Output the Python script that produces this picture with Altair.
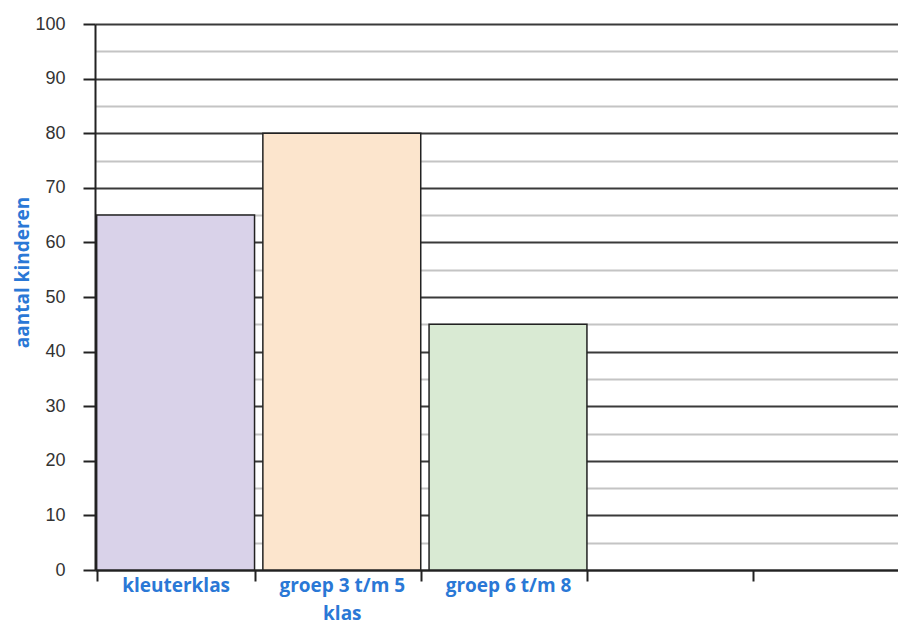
import altair as alt
import pandas as pd

# Data
categories = ["kleuterklas", "groep 3 t/m 5 klas", "groep 6 t/m 8"]
values = [65, 80, 45]
colors = ["#d9d2e9", "#fce5cd", "#d9ead3"]
# the axis shows two further (empty) category slots
x_domain = categories + [" ", "  "]
y_ticks = list(range(0, 101, 5))

df = pd.DataFrame({"klas": categories, "aantal": values, "kleur": colors})

label_blue = "#2a78d6"

x_axis = alt.Axis(
    title=None,
    tickBand="extent",
    labelAngle=0,
    labelFont="Open Sans",
    labelFontWeight="bold",
    labelFontSize=19,
    labelColor=label_blue,
    labelLineHeight=28,
    labelBaseline="top",
    labelPadding=-5,
    tickSize=11,
    tickColor="#222222",
    tickWidth=2,
    domainColor="#222222",
    domainWidth=2,
    labelExpr="datum.label == 'groep 3 t/m 5 klas' ? ['groep 3 t/m 5', 'klas'] : datum.label",
)

y_axis = alt.Axis(
    title="aantal kinderen",
    values=y_ticks,
    labelExpr="datum.value % 10 === 0 ? datum.label : ''",
    labelFont="Liberation Sans",
    labelFontSize=18,
    labelColor="#333333",
    labelPadding=18,
    tickSize=12,
    tickWidth=2,
    tickColor="#222222",
    tickOpacity={"condition": {"test": "datum.value % 10 === 0", "value": 1}, "value": 0},
    domainColor="#222222",
    domainWidth=2,
    grid=True,
    gridColor={"condition": {"test": "datum.value % 10 === 0", "value": "#3a3a3a"}, "value": "#c4c4c4"},
    gridWidth=2,
    titleFont="Open Sans",
    titleFontWeight="bold",
    titleFontSize=19,
    titleColor=label_blue,
    titleX=-73,
    titleY=248,
    titleAngle=270,
    titleAlign="center",
    titleBaseline="middle",
)

chart = (
    alt.Chart(df)
    .mark_bar(stroke="#222222", strokeWidth=1.5)
    .encode(
        x=alt.X(
            "klas:N",
            sort=x_domain,
            scale=alt.Scale(domain=x_domain, range=[0, 826], paddingInner=0.05, paddingOuter=0.01),
            axis=x_axis,
        ),
        y=alt.Y("aantal:Q", scale=alt.Scale(domain=[0, 100], nice=False), axis=y_axis),
        color=alt.Color("kleur:N", scale=None, legend=None),
    )
    .properties(
        width=803,
        height=546,
        autosize=alt.AutoSizeParams(type="none"),
        padding={"left": 87, "top": 16, "right": 0, "bottom": 55},
    )
    .configure_view(stroke=None)
    .configure(background="white")
)

chart.save("out.html", embed_options={"renderer": "svg", "actions": False})
